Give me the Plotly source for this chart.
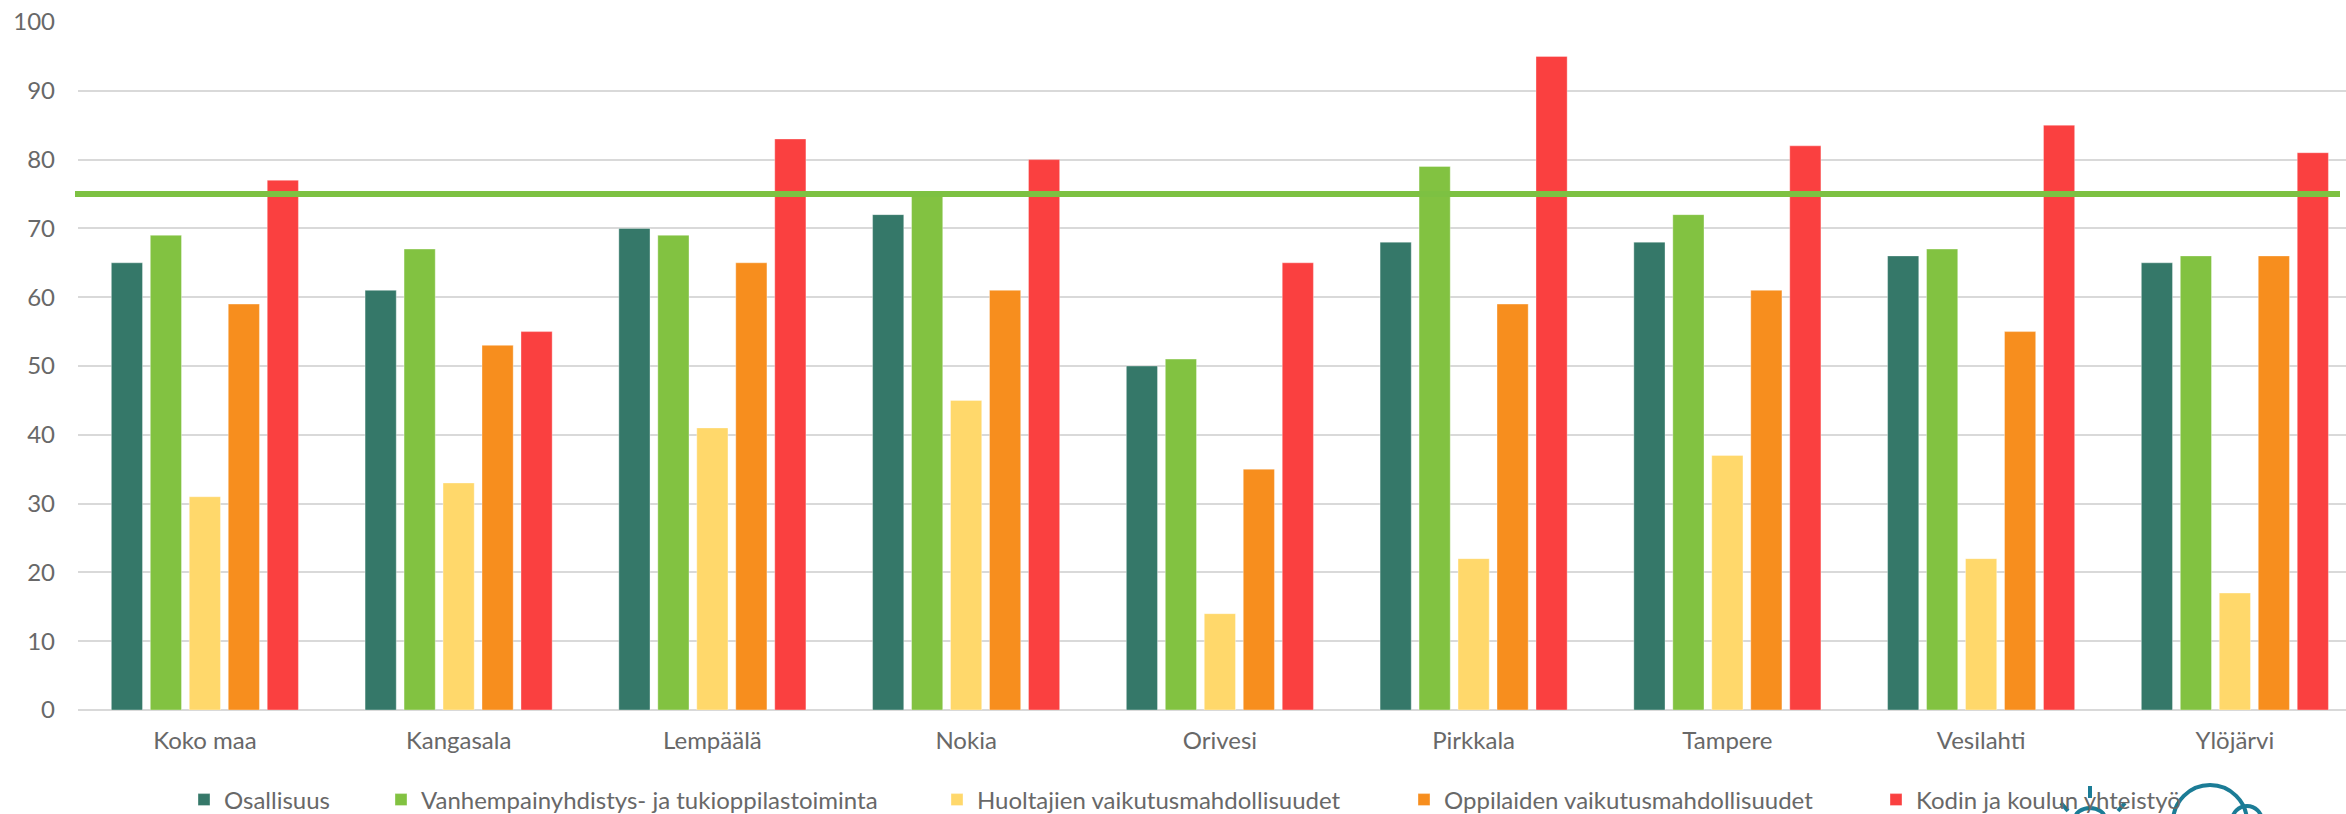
import plotly.graph_objects as go

categories = ["Koko maa", "Kangasala", "Lempäälä", "Nokia", "Orivesi",
              "Pirkkala", "Tampere", "Vesilahti", "Ylöjärvi"]
series_names = ["Osallisuus",
                "Vanhempainyhdistys- ja tukioppilastoiminta",
                "Huoltajien vaikutusmahdollisuudet",
                "Oppilaiden vaikutusmahdollisuudet",
                "Kodin ja koulun yhteistyö"]
osallisuus = [65, 61, 70, 72, 50, 68, 68, 66, 65]
vanhempainyhdistys = [69, 67, 69, 75, 51, 79, 72, 67, 66]
huoltajien = [31, 33, 41, 45, 14, 22, 37, 22, 17]
oppilaiden = [59, 53, 65, 61, 35, 59, 61, 55, 66]
kodin = [77, 55, 83, 80, 65, 95, 82, 85, 81]
target_value = 75
y_ticks = [0, 10, 20, 30, 40, 50, 60, 70, 80, 90, 100]

colors = ["#357869", "#82C241", "#FFD86B", "#F78E1E", "#FA4040"]
values = [osallisuus, vanhempainyhdistys, huoltajien, oppilaiden, kodin]

W, H = 2346, 814
ml, mr, mt, mb = 78, 0, 22, 104
plot_w = W - ml - mr
plot_h = H - mt - mb
font_family = "Lato, 'Open Sans', sans-serif"
text_color = "#686868"
fsize = 24


def px_x(px):
    return (px - ml) / plot_w


def px_y(py):
    return (H - mb - py) / plot_h


fig = go.Figure()
legend_x_px = [184, 381, 937, 1404, 1876]
for i, (name, vals, col) in enumerate(zip(series_names, values, colors)):
    lg = "legend" if i == 0 else f"legend{i+1}"
    fig.add_trace(go.Bar(
        x=categories, y=vals, name=name,
        marker=dict(color=col, line=dict(color="rgba(255,255,255,0.35)", width=1)),
        legend=lg,
    ))

layout_legends = {}
for i in range(5):
    key = "legend" if i == 0 else f"legend{i+1}"
    layout_legends[key] = dict(
        x=legend_x_px[i] / W, xref="container", xanchor="left",
        y=1 - 800 / H, yref="container", yanchor="middle", orientation="h",
        font=dict(family=font_family, size=fsize, color=text_color),
        bgcolor="rgba(0,0,0,0)", borderwidth=0,
    )

fig.add_shape(type="line", xref="paper", yref="y",
              x0=px_x(75), x1=px_x(2340),
              y0=target_value, y1=target_value,
              line=dict(color="#7DC142", width=6), layer="above")

# partial logo at bottom right (cropped in the original)
logo_col = "#1B7C96"
logo_line = dict(color=logo_col, width=4)
fig.add_shape(type="circle", xref="paper", yref="paper",
              x0=px_x(2173), x1=px_x(2247), y0=px_y(859), y1=px_y(785),
              line=logo_line, layer="above")
fig.add_shape(type="circle", xref="paper", yref="paper",
              x0=px_x(2232), x1=px_x(2262), y0=px_y(836), y1=px_y(806),
              line=logo_line, layer="above")
fig.add_shape(type="circle", xref="paper", yref="paper",
              x0=px_x(2075), x1=px_x(2105), y0=px_y(830), y1=px_y(808),
              line=logo_line, layer="above")
for (xa, ya, xb, yb) in [(2090, 786, 2090, 798), (2061, 803, 2068, 811),
                         (2118, 811, 2125, 803)]:
    fig.add_shape(type="line", xref="paper", yref="paper",
                  x0=px_x(xa), y0=px_y(ya), x1=px_x(xb), y1=px_y(yb),
                  line=logo_line, layer="above")

ncat = plot_w / 253.75

fig.update_layout(
    width=W, height=H,
    margin=dict(l=ml, r=mr, t=mt, b=mb, pad=0, autoexpand=False),
    paper_bgcolor="white", plot_bgcolor="white",
    barmode="group", bargap=0.232, bargroupgap=0.2,
    showlegend=True,
    xaxis=dict(range=[-0.5, -0.5 + ncat], showgrid=False, zeroline=False,
               showline=False, ticks="", automargin=False,
               tickfont=dict(family=font_family, size=fsize, color=text_color),
               ticklabelstandoff=14),
    yaxis=dict(range=[0, 100], tickvals=y_ticks, showgrid=True,
               gridcolor="#D9D9D9", gridwidth=2, zeroline=True,
               zerolinecolor="#D9D9D9", zerolinewidth=2, showline=False,
               automargin=False,
               tickfont=dict(family=font_family, size=fsize, color=text_color),
               ticklabelstandoff=22),
    **layout_legends,
)

fig.write_html("out.html",
               config={"displayModeBar": False},
               post_script="document.body.style.margin='0';"
                           "document.body.style.overflow='hidden';")
